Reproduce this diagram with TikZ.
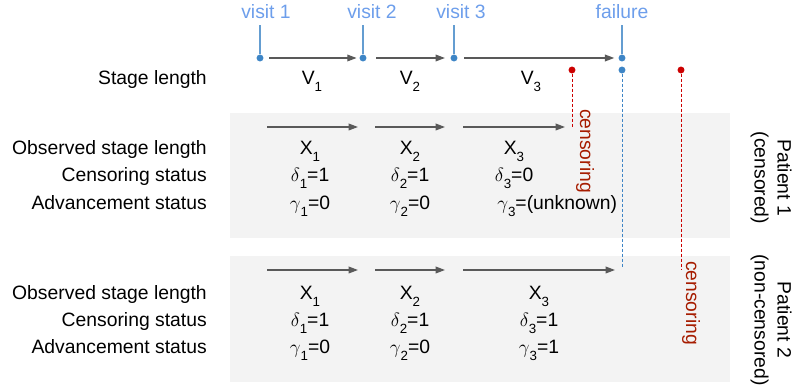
\documentclass[tikz,border=0pt]{standalone}
\usepackage{fontspec}
\setmainfont{Liberation Sans}
\usetikzlibrary{arrows.meta}

\definecolor{visitblue}{HTML}{6D9EEB}
\definecolor{dotblue}{HTML}{3D85C6}
\definecolor{censred}{HTML}{CC0000}
\definecolor{textred}{HTML}{A61C00}
\definecolor{arrowgray}{HTML}{595959}
\definecolor{boxgray}{HTML}{F3F3F3}

\newcommand{\lowsub}[1]{\raisebox{-0.6ex}{\fontsize{10}{10}\selectfont #1}}

\begin{document}
\begin{tikzpicture}[x=0.75pt,y=-0.75pt]
		\tikzstyle{every node}+=[inner sep=0pt, font=\fontsize{14.5}{17.25}\selectfont]
		\tikzstyle{dot}=[circle, fill=#1, minimum size=5.2pt]
		\tikzstyle{visitlabel}=[anchor=base, text=visitblue]
		\tikzstyle{tick}=[dotblue!80, line width=0.8pt, shorten >=4.5pt]
		\tikzstyle{stagearrow}=[arrowgray, line width=1pt, -{Triangle[length=7pt,width=5pt]}]
		\tikzstyle{rowlabel}=[anchor=base east]
		\tikzstyle{cell}=[anchor=base]
		\tikzstyle{censline}=[censred, line width=0.75pt, dash pattern=on 2.25pt off 1.5pt]
		\tikzstyle{failline}=[dotblue, line width=0.75pt, dash pattern=on 2.25pt off 1.5pt]
		\tikzstyle{censlabel}=[rotate=-90, text=textred]
		\tikzstyle{patient}=[rotate=-90, align=center]
		\useasboundingbox (0,0) rectangle (793,391);
		% patient panels
		\fill [boxgray] (230,113) rectangle (730,238);
		\fill [boxgray] (230,256) rectangle (730,382);
		% visits on the time line
		\node [dot=dotblue] (d1) at (260,58) {};
		\node [dot=dotblue] (d2) at (363,58) {};
		\node [dot=dotblue] (d3) at (454,58) {};
		\node [dot=dotblue] (df) at (622,58) {};
		\node [visitlabel] (l1) at (266,19) {visit 1};
		\node [visitlabel] (l2) at (372,19) {visit 2};
		\node [visitlabel] (l3) at (461,19) {visit 3};
		\node [visitlabel] (lf) at (622,19) {failure};
		\draw [tick] (d1) -- (d1 |- l1.south);
		\draw [tick] (d2) -- (d2 |- l2.south);
		\draw [tick] (d3) -- (d3 |- l3.south);
		\draw [tick] (df) -- (df |- lf.south);
		\draw [stagearrow, shorten <=4pt, shorten >=2pt] (d1) -- (d2);
		\draw [stagearrow, shorten <=7pt, shorten >=4pt] (d2) -- (d3);
		\draw [stagearrow, shorten <=5pt, shorten >=3pt] (d3) -- (df);
		% stage lengths
		\node [rowlabel] (stage) at (207,85) {Stage length};
		\node [cell] (v1) at (312,85) {V\lowsub{1}};
		\node [cell] (v2) at (410,85) {V\lowsub{2}};
		\node [cell] (v3) at (531,85) {V\lowsub{3}};
		% censoring and failure marks
		\node [dot=censred] (c1) at (572,70) {};
		\node [dot=dotblue] (f2) at (622,70) {};
		\node [dot=censred] (c2) at (681,70) {};
		\coordinate (c1end) at (572,127);
		\coordinate (f2end) at (622,268);
		\coordinate (c2end) at (681,270);
		\draw [censline] (c1) -- (c1end);
		\draw [failline] (f2) -- (f2end);
		\draw [censline] (c2) -- (c2end);
		\node [censlabel] (cl1) at (585,151) {censoring};
		\node [censlabel] (cl2) at (691,303) {censoring};
		% patient 1
		\coordinate (a0) at (267,127);
		\coordinate (a1) at (358,127);
		\coordinate (a2) at (375,127);
		\coordinate (a3) at (445,127);
		\coordinate (a4) at (463,127);
		\coordinate (a5) at (565,127);
		\draw [stagearrow] (a0) -- (a1);
		\draw [stagearrow] (a2) -- (a3);
		\draw [stagearrow] (a4) -- (a5);
		\node [rowlabel] (obs1) at (207,155) {Observed stage length};
		\node [rowlabel] (cen1) at (207,182) {Censoring status};
		\node [rowlabel] (adv1) at (207,210) {Advancement status};
		\node [cell] (x11) at (310,155) {X\lowsub{1}};
		\node [cell] (x12) at (410,155) {X\lowsub{2}};
		\node [cell] (x13) at (514,155) {X\lowsub{3}};
		\node [cell] (dl11) at (310,182) {$\delta$\lowsub{1}=1};
		\node [cell] (dl12) at (410,182) {$\delta$\lowsub{2}=1};
		\node [cell] (dl13) at (514,182) {$\delta$\lowsub{3}=0};
		\node [cell] (gm11) at (310,210) {$\gamma$\lowsub{1}=0};
		\node [cell] (gm12) at (410,210) {$\gamma$\lowsub{2}=0};
		\node [anchor=base west] (gm13) at (497,210) {$\gamma$\lowsub{3}=(unknown)};
		\node [patient] (p1) at (771,178) {Patient 1\\(censored)};
		% patient 2
		\coordinate (b0) at (267,270);
		\coordinate (b1) at (358,270);
		\coordinate (b2) at (375,270);
		\coordinate (b3) at (445,270);
		\coordinate (b4) at (463,270);
		\coordinate (b5) at (615,270);
		\draw [stagearrow] (b0) -- (b1);
		\draw [stagearrow] (b2) -- (b3);
		\draw [stagearrow] (b4) -- (b5);
		\node [rowlabel] (obs2) at (207,300) {Observed stage length};
		\node [rowlabel] (cen2) at (207,327) {Censoring status};
		\node [rowlabel] (adv2) at (207,354) {Advancement status};
		\node [cell] (x21) at (310,300) {X\lowsub{1}};
		\node [cell] (x22) at (410,300) {X\lowsub{2}};
		\node [cell] (x23) at (539,300) {X\lowsub{3}};
		\node [cell] (dl21) at (310,327) {$\delta$\lowsub{1}=1};
		\node [cell] (dl22) at (410,327) {$\delta$\lowsub{2}=1};
		\node [cell] (dl23) at (539,327) {$\delta$\lowsub{3}=1};
		\node [cell] (gm21) at (310,354) {$\gamma$\lowsub{1}=0};
		\node [cell] (gm22) at (410,354) {$\gamma$\lowsub{2}=0};
		\node [cell] (gm23) at (539,354) {$\gamma$\lowsub{3}=1};
		\node [patient] (p2) at (771,320) {Patient 2\\(non-censored)};
\end{tikzpicture}
\end{document}
